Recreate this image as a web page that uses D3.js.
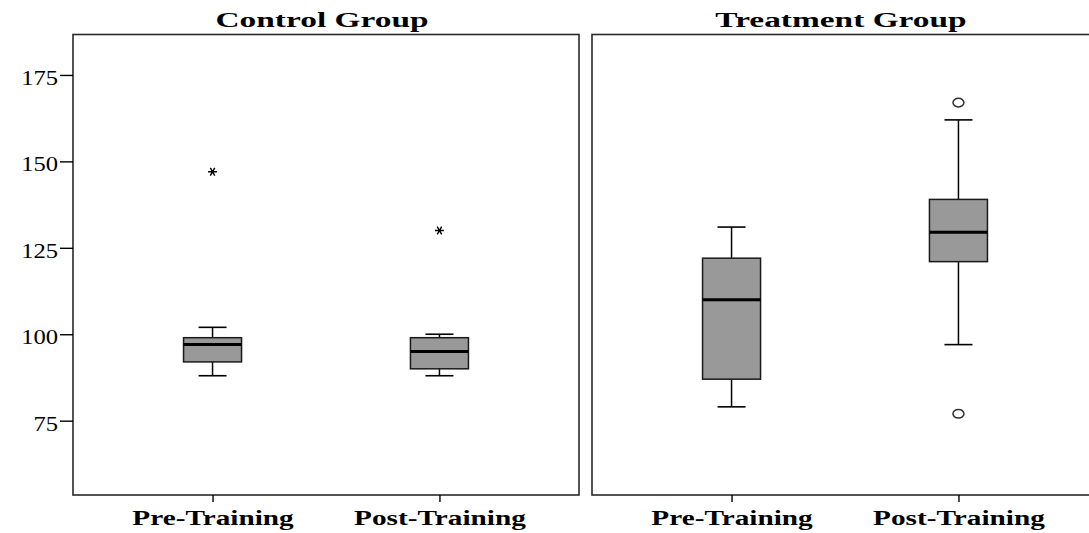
<!DOCTYPE html>
<html>
<head>
<meta charset="utf-8">
<script src="https://cdn.jsdelivr.net/npm/d3@7"></script>
<style>
  html, body { margin: 0; padding: 0; background: #fff; overflow: hidden; }
  svg { display: block; }
</style>
</head>
<body>
<div id="chart"></div>
<script>
// Data (box = [low whisker, Q1, median, Q3, high whisker])
const groups = ['Control Group', 'Treatment Group'];
const phases = ['Pre-Training', 'Post-Training'];
const controlBoxes = [[88, 92, 97, 99, 102], [88, 90, 95, 99, 100]];
const treatmentBoxes = [[79, 87, 110, 122, 131], [97, 121, 129.5, 139, 162]];
const controlExtremes = [[147], [130]];      // drawn as stars
const treatmentOutliers = [[], [167, 77]];   // drawn as circles
const yTicks = [75, 100, 125, 150, 175];

const width = 1089;
const height = 533;

const panelW = 506;
const panelX = [73, 592];
const plotTop = 34.5;
const plotBottom = 495;

const serif = '"Liberation Serif", "Times New Roman", serif';

const svg = d3.select('#chart')
  .append('svg')
  .attr('width', width)
  .attr('height', height)
  .style('background', '#fff');

const y = d3.scaleLinear()
  .domain([53.5, 186.7])
  .range([plotBottom, plotTop]);

const x = d3.scalePoint()
  .domain(phases)
  .range([0, panelW])
  .padding(0.615);

const boxW = 58;
const capW = 28;

const panels = [
  { name: groups[0], boxes: controlBoxes, extremes: controlExtremes, outliers: [[], []] },
  { name: groups[1], boxes: treatmentBoxes, extremes: [[], []], outliers: treatmentOutliers }
];

panels.forEach((p, i) => {
  const g = svg.append('g').attr('transform', `translate(${panelX[i]},0)`);

  // Frame
  g.append('rect')
    .attr('x', 0)
    .attr('y', plotTop)
    .attr('width', panelW)
    .attr('height', plotBottom - plotTop)
    .attr('fill', 'none')
    .attr('stroke', '#2a2a2a')
    .attr('stroke-width', 1.6);

  // Title
  g.append('text')
    .attr('transform', `translate(${panelW / 2 - 4},27) scale(1.67,1)`)
    .attr('text-anchor', 'middle')
    .attr('font-family', serif)
    .attr('font-weight', 'bold')
    .attr('font-size', 20)
    .attr('fill', '#000')
    .text(p.name);

  // Y axis only on the first panel
  if (i === 0) {
    const yAxis = g.append('g')
      .call(d3.axisLeft(y).tickValues(yTicks).tickSize(13).tickPadding(2));
    yAxis.select('.domain').remove();
    yAxis.selectAll('.tick line').attr('stroke', '#000').attr('stroke-width', 1.4);
    yAxis.selectAll('.tick text')
      .attr('x', null)
      .attr('dy', null)
      .attr('transform', 'translate(-15,9.5) scale(1.2,1)')
      .attr('text-anchor', 'end')
      .attr('font-family', serif)
      .attr('font-size', 20.5)
      .attr('fill', '#000');
  }

  // X axis ticks and labels
  const xAxis = g.append('g')
    .attr('transform', `translate(0,${plotBottom})`)
    .call(d3.axisBottom(x).tickSize(7).tickPadding(0));
  xAxis.select('.domain').remove();
  xAxis.selectAll('.tick line').attr('stroke', '#000').attr('stroke-width', 1.4);
  xAxis.selectAll('.tick text')
    .attr('y', null)
    .attr('dy', null)
    .attr('transform', 'translate(0,30) scale(1.33,1)')
    .attr('text-anchor', 'middle')
    .attr('font-family', serif)
    .attr('font-weight', 'bold')
    .attr('font-size', 22)
    .attr('fill', '#000');

  // Boxes
  const box = g.append('g')
    .selectAll('g')
    .data(p.boxes.map((b, j) => ({ phase: phases[j], b })))
    .join('g')
    .attr('transform', d => `translate(${x(d.phase)},0)`);

  // Whiskers
  box.append('line')
    .attr('x1', 0).attr('x2', 0)
    .attr('y1', d => y(d.b[0])).attr('y2', d => y(d.b[1]))
    .attr('stroke', '#000').attr('stroke-width', 1.5);
  box.append('line')
    .attr('x1', 0).attr('x2', 0)
    .attr('y1', d => y(d.b[3])).attr('y2', d => y(d.b[4]))
    .attr('stroke', '#000').attr('stroke-width', 1.5);
  box.append('line')
    .attr('x1', -capW / 2).attr('x2', capW / 2)
    .attr('y1', d => y(d.b[0])).attr('y2', d => y(d.b[0]))
    .attr('stroke', '#000').attr('stroke-width', 1.6);
  box.append('line')
    .attr('x1', -capW / 2).attr('x2', capW / 2)
    .attr('y1', d => y(d.b[4])).attr('y2', d => y(d.b[4]))
    .attr('stroke', '#000').attr('stroke-width', 1.6);

  box.append('rect')
    .attr('x', -boxW / 2)
    .attr('width', boxW)
    .attr('y', d => y(d.b[3]))
    .attr('height', d => y(d.b[1]) - y(d.b[3]))
    .attr('fill', '#999')
    .attr('stroke', '#1a1a1a')
    .attr('stroke-width', 1.5);

  box.append('line')
    .attr('x1', -boxW / 2).attr('x2', boxW / 2)
    .attr('y1', d => y(d.b[2])).attr('y2', d => y(d.b[2]))
    .attr('stroke', '#000').attr('stroke-width', 3);

  // Extremes (stars)
  const stars = p.extremes.flatMap((vals, j) => vals.map(v => ({ phase: phases[j], v })));
  g.append('g')
    .selectAll('path')
    .data(stars)
    .join('path')
    .attr('d', d3.symbol(d3.symbolAsterisk, 55))
    .attr('transform', d => `translate(${x(d.phase)},${y(d.v)}) rotate(90)`)
    .attr('fill', 'none')
    .attr('stroke', '#000')
    .attr('stroke-width', 1.4);

  // Outliers (circles)
  const circles = p.outliers.flatMap((vals, j) => vals.map(v => ({ phase: phases[j], v })));
  g.append('g')
    .selectAll('ellipse')
    .data(circles)
    .join('ellipse')
    .attr('cx', d => x(d.phase))
    .attr('cy', d => y(d.v))
    .attr('rx', 5.5)
    .attr('ry', 4.3)
    .attr('fill', '#fff')
    .attr('stroke', '#333')
    .attr('stroke-width', 1.5);
});
</script>
</body>
</html>
